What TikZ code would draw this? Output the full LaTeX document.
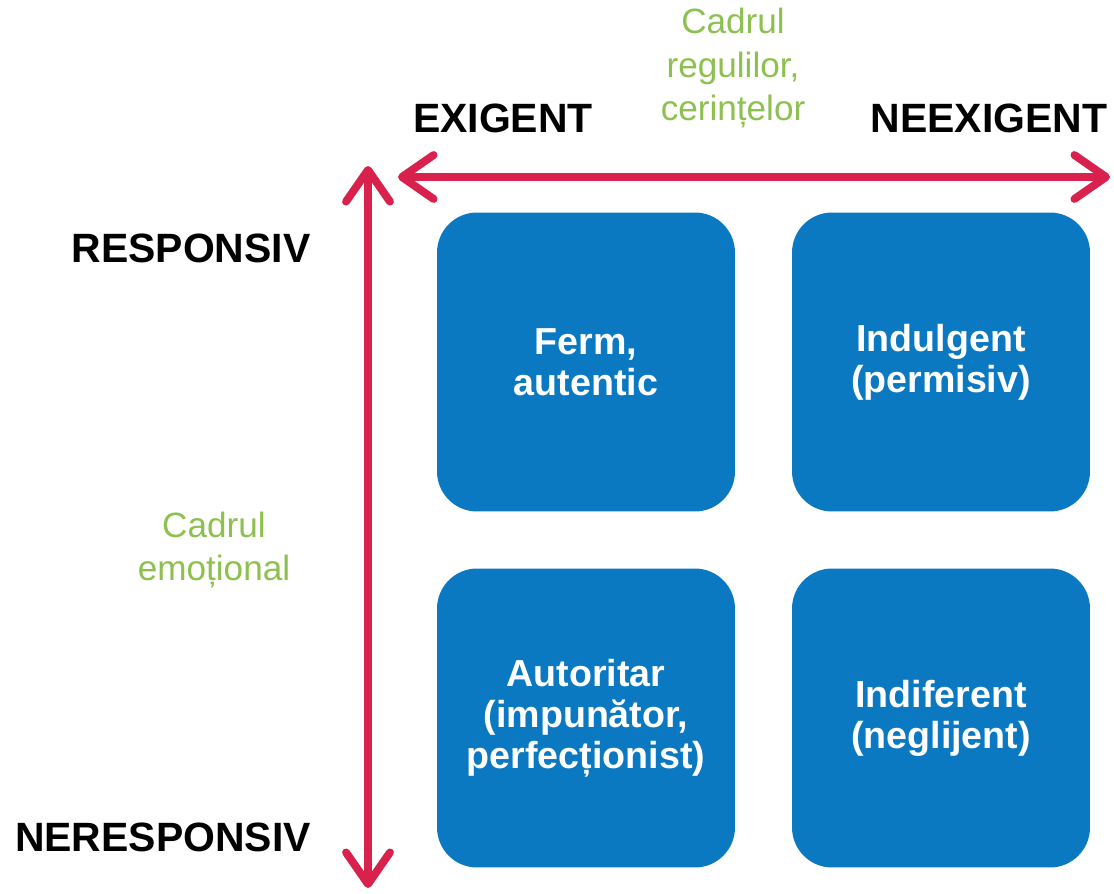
\documentclass[tikz,border=0pt]{standalone}
\usepackage{fontspec}
\setmainfont{Liberation Sans}
\usetikzlibrary{arrows.meta}
\definecolor{axisred}{RGB}{217,33,78}
\definecolor{boxblue}{RGB}{10,121,193}
\definecolor{framegreen}{RGB}{141,192,80}

\begin{document}
\begin{tikzpicture}[x=0.02cm,y=-0.02cm,
    stylebox/.style={fill=boxblue,rounded corners=0.8cm,minimum width=5.96cm,minimum height=5.98cm,
        inner sep=0pt,align=center,text=white,font=\fontsize{21.4}{23.4}\selectfont\bfseries},
    pole/.style={font=\fontsize{23.3}{28}\selectfont\bfseries},
    frame/.style={align=center,text=framegreen,font=\fontsize{20}{25}\selectfont},
    axis/.style={draw=axisred,line width=4.5pt,
        {Straight Barb[length=18pt,width=25pt,round]}-{Straight Barb[length=18pt,width=25pt,round]}}]
    \useasboundingbox (0,0) rectangle (1114,893);
    \node[stylebox] (ferm) at (586,362) {Ferm,\\autentic};
    \node[stylebox] (indulgent) at (941,362) {Indulgent\\(permisiv)};
    \node[stylebox] (autoritar) at (586,718) {Autoritar\\(impunător,\\perfecționist)};
    \node[stylebox] (indiferent) at (941,718) {Indiferent\\(neglijent)};
    \coordinate (left) at (398,177);
    \coordinate (right) at (1110,177);
    \coordinate (top) at (368,166);
    \coordinate (bottom) at (368,888);
    \draw[axis] (left) -- (right);
    \draw[axis] (top) -- (bottom);
    \node[pole] (exigent) at (503,118) {EXIGENT};
    \node[pole] (neexigent) at (989,118) {NEEXIGENT};
    \node[pole] (responsiv) at (191,248) {RESPONSIV};
    \node[pole] (neresponsiv) at (163,837) {NERESPONSIV};
    \node[frame] (reguli) at (733,68) {Cadrul\\regulilor,\\cerințelor};
    \node[frame] (emotional) at (214,550) {Cadrul\\emoțional};
\end{tikzpicture}
\end{document}
